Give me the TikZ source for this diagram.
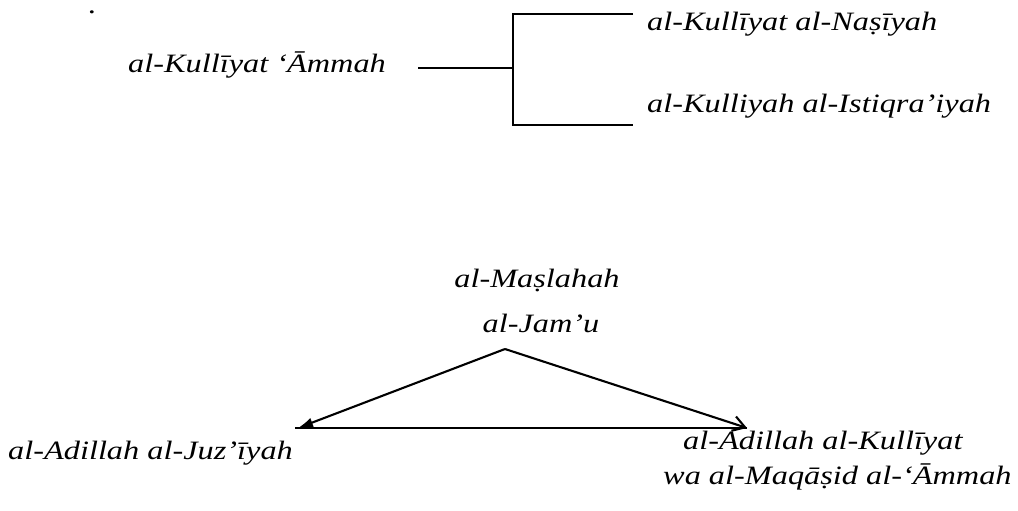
\documentclass[tikz,border=0pt]{standalone}
\usepackage{fontspec}
\setmainfont{Liberation Serif}
\newfontfamily\widefont[FakeStretch=1.22]{Liberation Serif}
\usetikzlibrary{arrows.meta}
\begin{document}
\begin{tikzpicture}[x=1pt,y=-1pt,
  lbl/.style={font=\widefont\fontsize{26.5}{30}\selectfont\itshape, inner sep=0pt, anchor=base west},
  brk/.style={line width=1.3pt},
  tri/.style={line width=2.1pt},
  base/.style={line width=1.5pt}]
\useasboundingbox (0,0) rectangle (1018,511);
% top part
\node[font=\widefont\fontsize{26.5}{30}\selectfont, inner sep=0pt, anchor=base] (dot) at (92,14) {.};
\node[lbl] (ka) at (128,73) {al-Kullīyat  ‘Āmmah};
\node[lbl] (kn) at (647,31) {al-Kullīyat al-Naṣīyah};
\node[lbl] (ki) at (647,113) {al-Kulliyah al-Istiqra’iyah};
\coordinate (kar) at (418,68);
\coordinate (j) at (513,68);
\coordinate (jt) at (513,14);
\coordinate (jb) at (513,125);
\coordinate (te) at (633,14);
\coordinate (be) at (633,125);
\draw[brk] (kar) -- (j);
\draw[brk] (te) -- (jt) -- (jb) -- (be);
% bottom part
\node[lbl, anchor=base] (ms) at (537,287) {al-Maṣlahah};
\node[lbl, anchor=base] (jm) at (541,332) {al-Jam’u};
\node[lbl] (aj) at (8,459) {al-Adillah al-Juz’īyah};
\node[lbl] (ak) at (683,449) {al-Adillah al-Kullīyat};
\node[lbl] (am) at (663,484) {wa al-Maqāṣid al-‘Āmmah};
\coordinate (apex) at (505,349);
\coordinate (lt) at (298,428);
\coordinate (hl) at (295,428);
\coordinate (rt) at (747,428);
\draw[base] (hl) -- (rt);
\draw[tri, -{Latex[length=15pt,width=10pt]}] (apex) -- (lt);
\draw[tri, -{Straight Barb[length=12pt,width=15pt]}] (apex) -- (rt);
\end{tikzpicture}
\end{document}
